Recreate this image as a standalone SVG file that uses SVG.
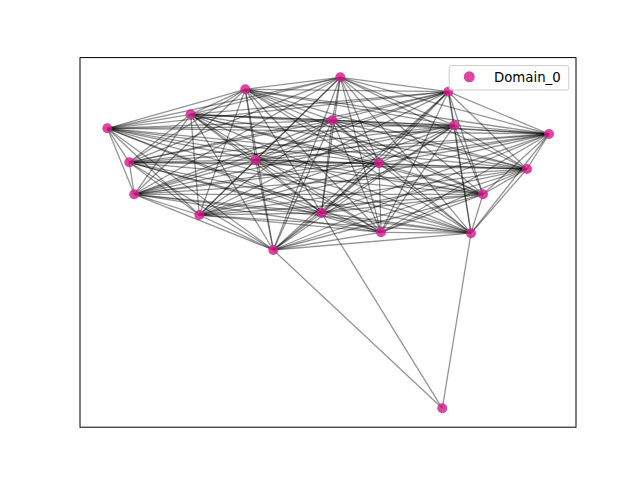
<svg xmlns="http://www.w3.org/2000/svg" width="640" height="480" viewBox="0 0 640 480">
<style>
.e line{stroke:#000;stroke-opacity:0.42;stroke-width:1.3}
.n circle{fill:#d41c8c;fill-opacity:0.82}
.lg{font-family:"DejaVu Sans",sans-serif;font-size:13.3px;fill:#000}
</style>
<rect x="0" y="0" width="640" height="480" fill="#fff"/>
<rect x="80" y="57.6" width="496" height="369.6" fill="none" stroke="#000" stroke-width="1"/>
<g class="e" id="edges">
<line x1="107.3" y1="128.3" x2="190.7" y2="114.3"/><line x1="107.3" y1="128.3" x2="245.3" y2="89.3"/><line x1="107.3" y1="128.3" x2="340.3" y2="77.3"/><line x1="107.3" y1="128.3" x2="448.3" y2="91.7"/><line x1="107.3" y1="128.3" x2="454.3" y2="125.3"/><line x1="107.3" y1="128.3" x2="549" y2="134"/><line x1="107.3" y1="128.3" x2="527" y2="169"/><line x1="107.3" y1="128.3" x2="483" y2="194.3"/><line x1="107.3" y1="128.3" x2="471" y2="233.2"/><line x1="107.3" y1="128.3" x2="381" y2="232.3"/><line x1="107.3" y1="128.3" x2="321.5" y2="213"/><line x1="107.3" y1="128.3" x2="273.3" y2="250"/><line x1="107.3" y1="128.3" x2="199.3" y2="215"/><line x1="107.3" y1="128.3" x2="134.3" y2="194.3"/><line x1="107.3" y1="128.3" x2="129.3" y2="162.3"/><line x1="107.3" y1="128.3" x2="255.7" y2="160"/><line x1="107.3" y1="128.3" x2="332.3" y2="120.3"/><line x1="107.3" y1="128.3" x2="379" y2="163.3"/>
<line x1="190.7" y1="114.3" x2="245.3" y2="89.3"/><line x1="190.7" y1="114.3" x2="340.3" y2="77.3"/><line x1="190.7" y1="114.3" x2="448.3" y2="91.7"/><line x1="190.7" y1="114.3" x2="454.3" y2="125.3"/><line x1="190.7" y1="114.3" x2="549" y2="134"/><line x1="190.7" y1="114.3" x2="527" y2="169"/><line x1="190.7" y1="114.3" x2="483" y2="194.3"/><line x1="190.7" y1="114.3" x2="471" y2="233.2"/><line x1="190.7" y1="114.3" x2="381" y2="232.3"/><line x1="190.7" y1="114.3" x2="321.5" y2="213"/><line x1="190.7" y1="114.3" x2="273.3" y2="250"/><line x1="190.7" y1="114.3" x2="199.3" y2="215"/><line x1="190.7" y1="114.3" x2="134.3" y2="194.3"/><line x1="190.7" y1="114.3" x2="129.3" y2="162.3"/><line x1="190.7" y1="114.3" x2="255.7" y2="160"/><line x1="190.7" y1="114.3" x2="332.3" y2="120.3"/><line x1="190.7" y1="114.3" x2="379" y2="163.3"/>
<line x1="245.3" y1="89.3" x2="340.3" y2="77.3"/><line x1="245.3" y1="89.3" x2="448.3" y2="91.7"/><line x1="245.3" y1="89.3" x2="454.3" y2="125.3"/><line x1="245.3" y1="89.3" x2="549" y2="134"/><line x1="245.3" y1="89.3" x2="527" y2="169"/><line x1="245.3" y1="89.3" x2="483" y2="194.3"/><line x1="245.3" y1="89.3" x2="471" y2="233.2"/><line x1="245.3" y1="89.3" x2="381" y2="232.3"/><line x1="245.3" y1="89.3" x2="321.5" y2="213"/><line x1="245.3" y1="89.3" x2="273.3" y2="250"/><line x1="245.3" y1="89.3" x2="199.3" y2="215"/><line x1="245.3" y1="89.3" x2="134.3" y2="194.3"/><line x1="245.3" y1="89.3" x2="129.3" y2="162.3"/><line x1="245.3" y1="89.3" x2="255.7" y2="160"/><line x1="245.3" y1="89.3" x2="332.3" y2="120.3"/><line x1="245.3" y1="89.3" x2="379" y2="163.3"/>
<line x1="340.3" y1="77.3" x2="448.3" y2="91.7"/><line x1="340.3" y1="77.3" x2="454.3" y2="125.3"/><line x1="340.3" y1="77.3" x2="549" y2="134"/><line x1="340.3" y1="77.3" x2="527" y2="169"/><line x1="340.3" y1="77.3" x2="483" y2="194.3"/><line x1="340.3" y1="77.3" x2="471" y2="233.2"/><line x1="340.3" y1="77.3" x2="381" y2="232.3"/><line x1="340.3" y1="77.3" x2="321.5" y2="213"/><line x1="340.3" y1="77.3" x2="273.3" y2="250"/><line x1="340.3" y1="77.3" x2="199.3" y2="215"/><line x1="340.3" y1="77.3" x2="134.3" y2="194.3"/><line x1="340.3" y1="77.3" x2="129.3" y2="162.3"/><line x1="340.3" y1="77.3" x2="255.7" y2="160"/><line x1="340.3" y1="77.3" x2="332.3" y2="120.3"/><line x1="340.3" y1="77.3" x2="379" y2="163.3"/>
<line x1="448.3" y1="91.7" x2="454.3" y2="125.3"/><line x1="448.3" y1="91.7" x2="549" y2="134"/><line x1="448.3" y1="91.7" x2="527" y2="169"/><line x1="448.3" y1="91.7" x2="483" y2="194.3"/><line x1="448.3" y1="91.7" x2="471" y2="233.2"/><line x1="448.3" y1="91.7" x2="381" y2="232.3"/><line x1="448.3" y1="91.7" x2="321.5" y2="213"/><line x1="448.3" y1="91.7" x2="273.3" y2="250"/><line x1="448.3" y1="91.7" x2="199.3" y2="215"/><line x1="448.3" y1="91.7" x2="134.3" y2="194.3"/><line x1="448.3" y1="91.7" x2="129.3" y2="162.3"/><line x1="448.3" y1="91.7" x2="255.7" y2="160"/><line x1="448.3" y1="91.7" x2="332.3" y2="120.3"/><line x1="448.3" y1="91.7" x2="379" y2="163.3"/>
<line x1="454.3" y1="125.3" x2="549" y2="134"/><line x1="454.3" y1="125.3" x2="527" y2="169"/><line x1="454.3" y1="125.3" x2="483" y2="194.3"/><line x1="454.3" y1="125.3" x2="471" y2="233.2"/><line x1="454.3" y1="125.3" x2="381" y2="232.3"/><line x1="454.3" y1="125.3" x2="321.5" y2="213"/><line x1="454.3" y1="125.3" x2="273.3" y2="250"/><line x1="454.3" y1="125.3" x2="199.3" y2="215"/><line x1="454.3" y1="125.3" x2="134.3" y2="194.3"/><line x1="454.3" y1="125.3" x2="129.3" y2="162.3"/><line x1="454.3" y1="125.3" x2="255.7" y2="160"/><line x1="454.3" y1="125.3" x2="332.3" y2="120.3"/><line x1="454.3" y1="125.3" x2="379" y2="163.3"/>
<line x1="549" y1="134" x2="527" y2="169"/><line x1="549" y1="134" x2="483" y2="194.3"/><line x1="549" y1="134" x2="471" y2="233.2"/><line x1="549" y1="134" x2="381" y2="232.3"/><line x1="549" y1="134" x2="321.5" y2="213"/><line x1="549" y1="134" x2="273.3" y2="250"/><line x1="549" y1="134" x2="199.3" y2="215"/><line x1="549" y1="134" x2="134.3" y2="194.3"/><line x1="549" y1="134" x2="129.3" y2="162.3"/><line x1="549" y1="134" x2="255.7" y2="160"/><line x1="549" y1="134" x2="332.3" y2="120.3"/><line x1="549" y1="134" x2="379" y2="163.3"/>
<line x1="527" y1="169" x2="483" y2="194.3"/><line x1="527" y1="169" x2="471" y2="233.2"/><line x1="527" y1="169" x2="381" y2="232.3"/><line x1="527" y1="169" x2="321.5" y2="213"/><line x1="527" y1="169" x2="273.3" y2="250"/><line x1="527" y1="169" x2="199.3" y2="215"/><line x1="527" y1="169" x2="134.3" y2="194.3"/><line x1="527" y1="169" x2="129.3" y2="162.3"/><line x1="527" y1="169" x2="255.7" y2="160"/><line x1="527" y1="169" x2="332.3" y2="120.3"/><line x1="527" y1="169" x2="379" y2="163.3"/>
<line x1="483" y1="194.3" x2="471" y2="233.2"/><line x1="483" y1="194.3" x2="381" y2="232.3"/><line x1="483" y1="194.3" x2="321.5" y2="213"/><line x1="483" y1="194.3" x2="273.3" y2="250"/><line x1="483" y1="194.3" x2="199.3" y2="215"/><line x1="483" y1="194.3" x2="134.3" y2="194.3"/><line x1="483" y1="194.3" x2="129.3" y2="162.3"/><line x1="483" y1="194.3" x2="255.7" y2="160"/><line x1="483" y1="194.3" x2="332.3" y2="120.3"/><line x1="483" y1="194.3" x2="379" y2="163.3"/>
<line x1="471" y1="233.2" x2="381" y2="232.3"/><line x1="471" y1="233.2" x2="321.5" y2="213"/><line x1="471" y1="233.2" x2="273.3" y2="250"/><line x1="471" y1="233.2" x2="199.3" y2="215"/><line x1="471" y1="233.2" x2="134.3" y2="194.3"/><line x1="471" y1="233.2" x2="129.3" y2="162.3"/><line x1="471" y1="233.2" x2="255.7" y2="160"/><line x1="471" y1="233.2" x2="332.3" y2="120.3"/><line x1="471" y1="233.2" x2="379" y2="163.3"/>
<line x1="381" y1="232.3" x2="321.5" y2="213"/><line x1="381" y1="232.3" x2="273.3" y2="250"/><line x1="381" y1="232.3" x2="199.3" y2="215"/><line x1="381" y1="232.3" x2="134.3" y2="194.3"/><line x1="381" y1="232.3" x2="129.3" y2="162.3"/><line x1="381" y1="232.3" x2="255.7" y2="160"/><line x1="381" y1="232.3" x2="332.3" y2="120.3"/><line x1="381" y1="232.3" x2="379" y2="163.3"/>
<line x1="321.5" y1="213" x2="273.3" y2="250"/><line x1="321.5" y1="213" x2="199.3" y2="215"/><line x1="321.5" y1="213" x2="134.3" y2="194.3"/><line x1="321.5" y1="213" x2="129.3" y2="162.3"/><line x1="321.5" y1="213" x2="255.7" y2="160"/><line x1="321.5" y1="213" x2="332.3" y2="120.3"/><line x1="321.5" y1="213" x2="379" y2="163.3"/>
<line x1="273.3" y1="250" x2="199.3" y2="215"/><line x1="273.3" y1="250" x2="134.3" y2="194.3"/><line x1="273.3" y1="250" x2="129.3" y2="162.3"/><line x1="273.3" y1="250" x2="255.7" y2="160"/><line x1="273.3" y1="250" x2="332.3" y2="120.3"/><line x1="273.3" y1="250" x2="379" y2="163.3"/>
<line x1="199.3" y1="215" x2="134.3" y2="194.3"/><line x1="199.3" y1="215" x2="129.3" y2="162.3"/><line x1="199.3" y1="215" x2="255.7" y2="160"/><line x1="199.3" y1="215" x2="332.3" y2="120.3"/><line x1="199.3" y1="215" x2="379" y2="163.3"/>
<line x1="134.3" y1="194.3" x2="129.3" y2="162.3"/><line x1="134.3" y1="194.3" x2="255.7" y2="160"/><line x1="134.3" y1="194.3" x2="332.3" y2="120.3"/><line x1="134.3" y1="194.3" x2="379" y2="163.3"/>
<line x1="129.3" y1="162.3" x2="255.7" y2="160"/><line x1="129.3" y1="162.3" x2="332.3" y2="120.3"/><line x1="129.3" y1="162.3" x2="379" y2="163.3"/>
<line x1="255.7" y1="160" x2="332.3" y2="120.3"/><line x1="255.7" y1="160" x2="379" y2="163.3"/>
<line x1="332.3" y1="120.3" x2="379" y2="163.3"/>
<line x1="442.3" y1="408.3" x2="273.3" y2="250"/><line x1="442.3" y1="408.3" x2="321.5" y2="213"/><line x1="442.3" y1="408.3" x2="471" y2="233.2"/>
</g>
<g class="n">
<g id="n0"><circle cx="107.3" cy="128.3" r="5"/></g>
<g id="n1"><circle cx="190.7" cy="114.3" r="5"/></g>
<g id="n2"><circle cx="245.3" cy="89.3" r="5"/></g>
<g id="n3"><circle cx="340.3" cy="77.3" r="5"/></g>
<g id="n4"><circle cx="448.3" cy="91.7" r="5"/></g>
<g id="n5"><circle cx="454.3" cy="125.3" r="5"/></g>
<g id="n6"><circle cx="549" cy="134" r="5"/></g>
<g id="n7"><circle cx="527" cy="169" r="5"/></g>
<g id="n8"><circle cx="483" cy="194.3" r="5"/></g>
<g id="n9"><circle cx="471" cy="233.2" r="5"/></g>
<g id="n10"><circle cx="381" cy="232.3" r="5"/></g>
<g id="n11"><circle cx="321.5" cy="213" r="5"/></g>
<g id="n12"><circle cx="273.3" cy="250" r="5"/></g>
<g id="n13"><circle cx="199.3" cy="215" r="5"/></g>
<g id="n14"><circle cx="134.3" cy="194.3" r="5"/></g>
<g id="n15"><circle cx="129.3" cy="162.3" r="5"/></g>
<g id="n16"><circle cx="255.7" cy="160" r="5"/></g>
<g id="n17"><circle cx="332.3" cy="120.3" r="5"/></g>
<g id="n18"><circle cx="379" cy="163.3" r="5"/></g>
<g id="n19"><circle cx="442.3" cy="408.3" r="5"/></g>
</g>
<g id="legend">
<rect x="449.2" y="65.6" width="119.6" height="24.4" rx="2.5" fill="#fff" fill-opacity="0.8" stroke="#ccc" stroke-width="1"/>
<circle cx="469.3" cy="76.8" r="5.5" fill="#d41c8c" fill-opacity="0.82"/>
<text class="lg" x="494" y="82">Domain_0</text>
</g>
</svg>
